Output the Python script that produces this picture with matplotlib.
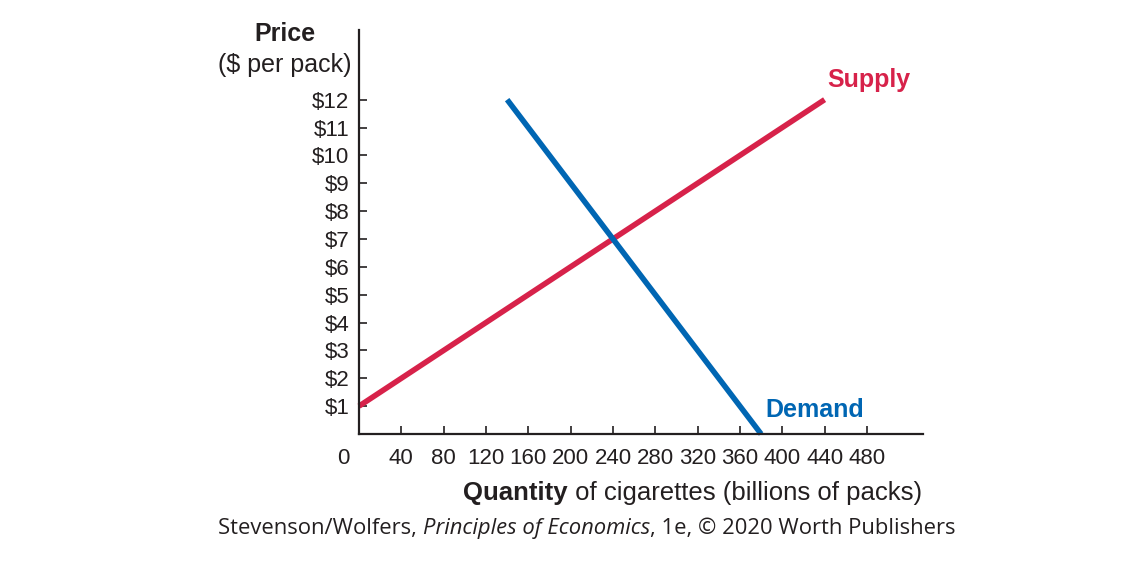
import matplotlib.pyplot as plt

# data
quantity_ticks = [40, 80, 120, 160, 200, 240, 280, 320, 360, 400, 440, 480]
price_ticks = [1, 2, 3, 4, 5, 6, 7, 8, 9, 10, 11, 12]
price_labels = ["$%d" % p for p in price_ticks]

supply_q = [0, 440]
supply_p = [1, 12]
demand_q = [140, 380]
demand_p = [12, 0]

RED = "#d7224a"
BLUE = "#0066b3"
INK = "#231f20"

plt.rcParams['font.family'] = ['Liberation Sans', 'DejaVu Sans']

fig = plt.figure(figsize=(11.4, 5.65), dpi=100)
ax = fig.add_axes([359 / 1140, 1 - 434 / 565, (923 - 359) / 1140, (434 - 30) / 565])

ax.plot(supply_q, supply_p, color=RED, lw=4, solid_capstyle='butt', clip_on=False)
ax.plot(demand_q, demand_p, color=BLUE, lw=4, solid_capstyle='butt', clip_on=False)

ax.set_xlim(0, 533)
ax.set_ylim(0, 14.5)

for s in ['top', 'right']:
    ax.spines[s].set_visible(False)
for s in ['left', 'bottom']:
    ax.spines[s].set_linewidth(1.6)
    ax.spines[s].set_color(INK)

ax.set_xticks(quantity_ticks)
ax.set_xticklabels([str(q) for q in quantity_ticks])
ax.set_yticks(price_ticks)
ax.set_yticklabels(price_labels)
ax.tick_params(axis='both', direction='in', length=5.5, width=1.2, color=INK,
               labelsize=16, labelcolor=INK)
ax.tick_params(axis='x', pad=10)
ax.tick_params(axis='y', pad=7)

# "0" at the origin corner
ax.annotate("0", xy=(0, 0), xycoords=('data', 'axes fraction'),
            xytext=(-16, -14), textcoords='offset pixels',
            ha='center', va='top', fontsize=16, color=INK)

# curve labels
ax.text(827 / 1140, 1 - 80 / 565, "Supply", transform=fig.transFigure,
        color=RED, fontsize=18, fontweight='bold', ha='left', va='center')
ax.text(765 / 1140, 1 - 410 / 565, "Demand", transform=fig.transFigure,
        color=BLUE, fontsize=18, fontweight='bold', ha='left', va='center')

# y axis title
fig.text(285 / 1140, 1 - 34 / 565, "Price", fontsize=18, fontweight='bold',
         ha='center', va='center', color=INK)
fig.text(285 / 1140, 1 - 65 / 565, "($ per pack)", fontsize=18,
         ha='center', va='center', color=INK)

renderer = fig.canvas.get_renderer()

# x axis title: bold word + regular rest, right-aligned at axis end
rest = fig.text(922 / 1140, 1 - 500 / 565, " of cigarettes (billions of packs)",
                fontsize=18.5, ha='right', va='baseline', color=INK)
bb = rest.get_window_extent(renderer)
fig.text(bb.x0 / 1140, 1 - 500 / 565, "Quantity", fontsize=18.5, fontweight='bold',
         ha='right', va='baseline', color=INK)

# source line
parts = [("Stevenson/Wolfers, ", 'normal'),
         ("Principles of Economics", 'italic'),
         (", 1e, \u00a9 2020 Worth Publishers", 'normal')]
src_font = ['Open Sans', 'DejaVu Sans']
texts = []
for s, style in parts:
    t = fig.text(0, 1 - 534 / 565, s, fontsize=15.8, style=style,
                 family=src_font, ha='left', va='baseline', color=INK)
    texts.append(t)
widths = [t.get_window_extent(renderer).width for t in texts]
x = 587 - sum(widths) / 2
for t, w in zip(texts, widths):
    t.set_x(x / 1140)
    x += w

fig.savefig("out.png", dpi=100)
